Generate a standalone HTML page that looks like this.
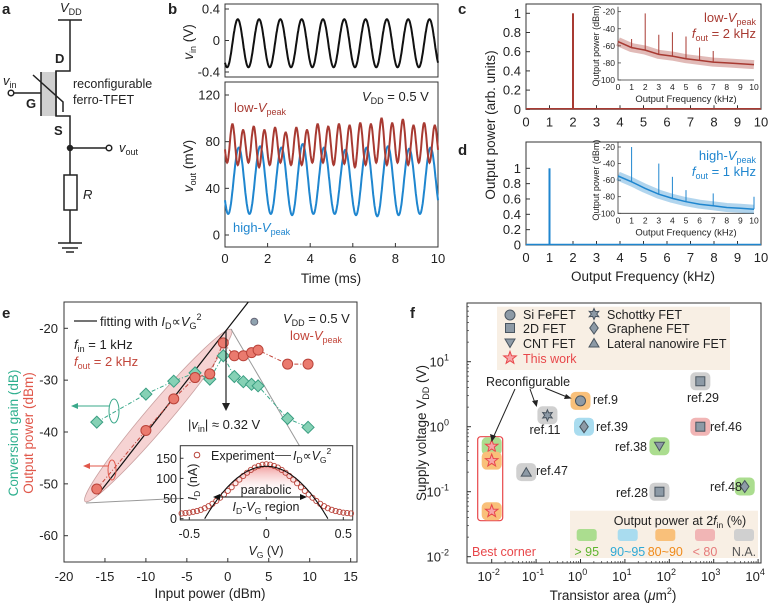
<!DOCTYPE html>
<html><head><meta charset="utf-8"><style>
html,body{margin:0;padding:0;background:#fff;}
svg{display:block;font-family:"Liberation Sans",sans-serif;}
text{fill:#222;}
</style></head><body>
<svg id="fig" width="772" height="610" viewBox="0 0 772 610" xmlns="http://www.w3.org/2000/svg">
<g font-weight="bold" font-size="15">
<text x="2" y="14">a</text>
<text x="168" y="14">b</text>
<text x="458" y="14">c</text>
<text x="458" y="155">d</text>
<text x="2" y="318">e</text>
<text x="410" y="318">f</text>
</g>
<g stroke="#222" stroke-width="1.5" fill="none">
<line x1="58" y1="20" x2="82" y2="20"/>
<polyline points="70,20 70,71 56,71 56,116 70,116 70,243"/>
<rect x="41" y="72" width="14" height="44" fill="#d0d0d0" stroke="none"/>
<line x1="41" y1="72" x2="41" y2="116"/>
<line x1="56" y1="71" x2="56" y2="116"/>
<polyline points="33,75 63,102 63,112"/>
<line x1="14" y1="93" x2="41" y2="93"/>
<circle cx="11" cy="93" r="2.8" fill="#fff"/>
<line x1="70" y1="148" x2="106" y2="148"/>
<circle cx="70" cy="148" r="2.5" fill="#222"/>
<circle cx="109" cy="148" r="2.8" fill="#fff"/>
<rect x="64" y="175" width="13" height="35" fill="#fff"/>
<line x1="58" y1="243" x2="82" y2="243"/>
<line x1="62" y1="248" x2="78" y2="248"/>
<line x1="66" y1="252" x2="74" y2="252"/>
</g>
<g font-size="13">
<text x="60" y="12" font-style="italic">V<tspan font-size="9" font-style="normal" dy="3">DD</tspan></text>
<text x="55" y="63" font-weight="bold">D</text>
<text x="26" y="108" font-weight="bold">G</text>
<text x="54" y="135" font-weight="bold">S</text>
<text x="3" y="85" font-style="italic">v<tspan font-size="9" font-style="normal" dy="3">in</tspan></text>
<text x="119" y="152" font-style="italic">v<tspan font-size="9" font-style="normal" dy="3">out</tspan></text>
<text x="73" y="88" font-size="12.5">reconfigurable</text>
<text x="73" y="104" font-size="12.5">ferro-TFET</text>
<text x="83" y="199" font-style="italic">R</text>
</g>
<g id="charts"></g>
</svg>
<script>
const vinStart = -0.4, vinHalf = 0.5;
const vinExt = [0.27,-0.34,0.27,-0.34,0.27,-0.34,0.27,-0.34,0.27,-0.34,0.27,-0.34,0.27,-0.34,0.27,-0.34,0.27,-0.34,0.27,-0.34,0.27,-0.34];
const lowStart = -0.15, lowHalf = 0.25;
const lowExt = [95,62,95,60,90,62,93,58,90,60,92,62,88,60,92,60,90,62,95,62,93,60,95,61,94,58,96,60,95,62,100,60,96,62,99,60,94,62,96,62,94,62];
const highStart = -0.35, highHalf = 0.5;
const highExt = [75,18,75,18,76,18,75,17,78,18,75,18,73,17,75,16,76,17,74,18,75,18];
const bTimeTicks = [0,2,4,6,8,10];
const vinTicks = [-0.4,0,0.4];
const voutTicks = [0,40,80,120];
const freqTicks = [0,1,2,3,4,5,6,7,8,9,10];
const normTicks = [0,0.2,0.4,0.6,0.8,1];
const cPeakFreq = [2], cPeakVal = [1];
const dPeakFreq = [1], dPeakVal = [1];
const insetTicksY = [-20,-40,-60,-80,-100];
const cBaseF = [0,1,2,3,4,5,6,7,8,9,10];
const cBaseDb = [-55,-62,-65,-70,-72,-75,-77,-79,-80,-81,-82];
const cSpikeF = [1,2,3,4,5,6,7];
const cSpikeDb = [-52,-22,-47,-44,-49,-62,-66];
const dBaseF = [0,1,2,3,4,5,6,7,8,9,10];
const dBaseDb = [-55,-62,-70,-77,-82,-86,-89,-91,-93,-94,-95];
const dSpikeF = [1,3,4,5,7,10];
const dSpikeDb = [-20,-40,-56,-72,-76,-80];
const ePin = [-16,-10,-6.6,-4,-2.2,-0.55,0.8,1.9,2.9,3.7,7.3,9.8];
const ePout = [-51,-39.7,-33.6,-29.5,-28.8,-22.8,-25.3,-25.3,-24.7,-24.2,-26.9,-26.9];
const eGain = [-38.1,-32.7,-30.2,-28.6,-29.8,-25.3,-29.3,-30.3,-30.8,-31.1,-37.4,-39.1];
const eXTicks = [-20,-15,-10,-5,0,5,10,15];
const eYTicks = [-20,-30,-40,-50,-60];
const inVg = [-0.55,-0.525,-0.5,-0.475,-0.45,-0.425,-0.4,-0.375,-0.35,-0.325,-0.3,-0.275,-0.25,-0.225,-0.2,-0.175,-0.15,-0.125,-0.1,-0.075,-0.05,-0.025,0,0.025,0.05,0.075,0.1,0.125,0.15,0.175,0.2,0.225,0.25,0.275,0.3,0.325,0.35,0.375,0.4,0.425,0.45,0.475,0.5,0.525,0.55];
const inId = [13,14,15,17,19,22,26,31,37,44,52,60,69,78,88,97,106,114,121,127,131,134,135,134,131,127,121,114,106,97,88,78,69,60,52,44,37,31,26,22,19,17,15,14,13];
const fitPeak = [130], fitRoot = [0.4];
const inXTicks = [-0.5,0,0.5];
const inYTicks = [0,50,100,150];
const fNames = ['ref.9','ref.11','ref.39','ref.29','ref.46','ref.38','ref.47','ref.28','ref.48','tw1','tw2','tw3'];
const fArea = [1,0.18,1.2,500,500,60,0.06,60,5000,0.01,0.01,0.01];
const fVdd = [2.5,1.5,1,5,1,0.5,0.2,0.1,0.12,0.5,0.3,0.05];
const fShape = ['circle','star6','diamond','square','square','tridown','triup','square','diamond','star5','star5','star5'];
const fClass = ['orange','gray','blue','gray','pink','green','gray','gray','green','green','orange','orange'];
const fXTicks = [-2,-1,0,1,2,3,4];
const fYTicks = [-2,-1,0,1];

const NS='http://www.w3.org/2000/svg';
const root=document.getElementById('charts');
function mk(tag,attrs,parent){const e=document.createElementNS(NS,tag);for(const k in attrs)e.setAttribute(k,attrs[k]);(parent||root).appendChild(e);return e;}
function txt(x,y,s,attrs,parent){const t=mk('text',Object.assign({x:x,y:y},attrs||{}),parent);t.textContent=s;return t;}
function wave(start,half,ext,X,Y){let d='';for(let t=0;t<=10.0001;t+=0.02){let u=(t-start)/half;let i=Math.floor(u);if(i<0)i=0;if(i>ext.length-2)i=ext.length-2;let f=Math.min(1,Math.max(0,u-i));let v=ext[i]+(ext[i+1]-ext[i])*(1-Math.cos(Math.PI*f))/2;d+=(d?'L':'M')+X(t).toFixed(1)+','+Y(v).toFixed(1);}return d;}

const gb=mk('g',{});


const bX=t=>225+t*21.3;
const bY1=v=>40.5-v*78.75;
const bY2=v=>235-v*140/120;
mk('rect',{x:225,y:4,width:213,height:73,fill:'none',stroke:'#333','stroke-width':1},gb);
mk('rect',{x:225,y:82,width:213,height:165,fill:'none',stroke:'#333','stroke-width':1},gb);
vinTicks.forEach(v=>{mk('line',{x1:225,x2:229,y1:bY1(v),y2:bY1(v),stroke:'#333'},gb);const t=txt(220,bY1(v)+4.5,v===0?'0':v.toFixed(1),{'font-size':13,'text-anchor':'end'},gb);});
voutTicks.forEach(v=>{mk('line',{x1:225,x2:229,y1:bY2(v),y2:bY2(v),stroke:'#333'},gb);const t=txt(220,bY2(v)+4.5,String(v),{'font-size':13,'text-anchor':'end'},gb);});
bTimeTicks.forEach(v=>{mk('line',{x1:bX(v),x2:bX(v),y1:247,y2:243,stroke:'#333'},gb);const t=txt(bX(v),263,String(v),{'font-size':13,'text-anchor':'middle'},gb);});
const vinP=mk('path',{d:wave(vinStart,vinHalf,vinExt,bX,bY1),fill:'none',stroke:'#111','stroke-width':2},gb);


const hiP=mk('path',{d:wave(highStart,highHalf,highExt,bX,bY2),fill:'none',stroke:'#1f86cf','stroke-width':2},gb);


const loP=mk('path',{d:wave(lowStart,lowHalf,lowExt,bX,bY2),fill:'none',stroke:'#a83a32','stroke-width':2},gb);


gb.insertAdjacentHTML('beforeend',
'<text x="331" y="283" font-size="13.5" text-anchor="middle">Time (ms)</text>'+
'<text transform="translate(193,42) rotate(-90)" font-size="13.5" text-anchor="middle"><tspan font-style="italic">v</tspan><tspan font-size="9" dy="3">in</tspan><tspan dy="-3"> (V)</tspan></text>'+
'<text transform="translate(193,166) rotate(-90)" font-size="13.5" text-anchor="middle"><tspan font-style="italic">v</tspan><tspan font-size="9" dy="3">out</tspan><tspan dy="-3"> (mV)</tspan></text>'+
'<text x="234" y="112" font-size="13" style="fill:#a83a32">low-<tspan font-style="italic">V</tspan><tspan font-size="9" dy="3">peak</tspan></text>'+
'<text x="233" y="232" font-size="13" style="fill:#1f86cf">high-<tspan font-style="italic">V</tspan><tspan font-size="9" dy="3">peak</tspan></text>'+
'<text x="362" y="101" font-size="13"><tspan font-style="italic">V</tspan><tspan font-size="9" dy="3">DD</tspan><tspan dy="-3"> = 0.5 V</tspan></text>');

function spectrum(name,top,y0,y1,peakF,peakV,col,baseF,baseDb,spF,spDb,iTop,iBot,label1,label2){
  const g=mk('g',{});
  
  
  const X=f=>526+f*23.5;
  const Y=v=>y0-(y0-y1)*v;
  mk('rect',{x:526,y:top,width:235,height:y0-top,fill:'none',stroke:'#333'},g);
  normTicks.forEach(v=>{mk('line',{x1:526,x2:530,y1:Y(v),y2:Y(v),stroke:'#333'},g);const t=txt(521,Y(v)+4.5,v===0||v===1?String(v):v.toFixed(1),{'font-size':13,'text-anchor':'end'},g);});
  freqTicks.forEach(f=>{mk('line',{x1:X(f),x2:X(f),y1:y0,y2:y0-4,stroke:'#333'},g);const t=txt(X(f),y0+17,String(f),{'font-size':13,'text-anchor':'middle'},g);});
  const bl=mk('line',{x1:526,x2:761,y1:y0-0.5,y2:y0-0.5,stroke:col,'stroke-width':1.5},g);
  
  
  peakF.forEach((f,i)=>{const l=mk('line',{x1:X(f),x2:X(f),y1:y0,y2:Y(peakV[i]),stroke:col,'stroke-width':2},g);});
  const IX=f=>618+f*13.6;
  const IY=v=>iTop+(iBot-iTop)*(-20-v)/80;
  mk('polyline',{points:`618,${iTop-5} 618,${iBot} 754,${iBot}`,fill:'none',stroke:'#333','stroke-width':0.8},g);
  insetTicksY.forEach(v=>{mk('line',{x1:618,x2:621,y1:IY(v),y2:IY(v),stroke:'#333','stroke-width':0.7},g);const t=txt(615,IY(v)+3,String(v),{'font-size':8.5,'text-anchor':'end'},g);});
  freqTicks.forEach(f=>{const t=txt(IX(f),iBot+10,String(f),{'font-size':8.5,'text-anchor':'middle'},g);});
  let pts=baseF.map((f,i)=>IX(f).toFixed(1)+','+IY(baseDb[i]).toFixed(1)).join(' ');
  const band=mk('polyline',{points:pts,fill:'none',stroke:col,'stroke-width':9,'stroke-opacity':0.35,'stroke-linejoin':'round'},g);
  
  
  const ln=mk('polyline',{points:pts,fill:'none',stroke:col,'stroke-width':1.5},g);
  
  
  spF.forEach((f,i)=>{let k=Math.min(baseF.length-1,Math.round(f));const l=mk('line',{x1:IX(f),x2:IX(f),y1:IY(baseDb[k]),y2:IY(spDb[i]),stroke:col,'stroke-width':1},g);});
  const tl=txt(686,iBot+22,'Output Frequency (kHz)',{'font-size':9.5,'text-anchor':'middle'},g);
  
  
  const yl=txt(0,0,'Output power (dBm)',{'font-size':9,'text-anchor':'middle',transform:`translate(599,${(iTop+iBot)/2}) rotate(-90)`},g);
  
  
  g.insertAdjacentHTML('beforeend',label1+label2);
}
spectrum('panel-c-spectrum-low',4,109.3,13.3,cPeakFreq,cPeakVal,'#a83a32',cBaseF,cBaseDb,cSpikeF,cSpikeDb,11.7,80,
'<text x="756" y="22" font-size="13" text-anchor="end" style="fill:#a83a32">low-<tspan font-style="italic">V</tspan><tspan font-size="9" dy="3">peak</tspan></text>',
'<text x="756" y="38" font-size="13" text-anchor="end" style="fill:#a83a32"><tspan font-style="italic">f</tspan><tspan font-size="9" dy="3">out</tspan><tspan dy="-3"> = 2 kHz</tspan></text>');
spectrum('panel-d-spectrum-high',142,245,168.3,dPeakFreq,dPeakVal,'#1f86cf',dBaseF,dBaseDb,dSpikeF,dSpikeDb,147,213.3,
'<text x="756" y="160" font-size="13" text-anchor="end" style="fill:#1f86cf">high-<tspan font-style="italic">V</tspan><tspan font-size="9" dy="3">peak</tspan></text>',
'<text x="756" y="176" font-size="13" text-anchor="end" style="fill:#1f86cf"><tspan font-style="italic">f</tspan><tspan font-size="9" dy="3">out</tspan><tspan dy="-3"> = 1 kHz</tspan></text>');
root.insertAdjacentHTML('beforeend',
'<text transform="translate(495,125) rotate(-90)" font-size="13.5" text-anchor="middle">Output power (arb. units)</text>'+
'<text x="643" y="281" font-size="13.5" text-anchor="middle">Output Frequency (kHz)</text>');

const ge=mk('g',{});


const eX=p=>64+(p+20)*8.19;
const eY=v=>328.3-(v+20)*5.185;
mk('rect',{x:64,y:302,width:293,height:260,fill:'none',stroke:'#333'},ge);
eYTicks.forEach(v=>{mk('line',{x1:64,x2:68,y1:eY(v),y2:eY(v),stroke:'#333'},ge);const t=txt(58,eY(v)+4.5,String(v),{'font-size':13,'text-anchor':'end'},ge);});
eXTicks.forEach(v=>{mk('line',{x1:eX(v),x2:eX(v),y1:562,y2:558,stroke:'#333'},ge);const t=txt(eX(v),581,String(v),{'font-size':13,'text-anchor':'middle'},ge);});
const ell=mk('ellipse',{cx:158.3,cy:415.5,rx:113,ry:12,transform:'rotate(-49.6 158.3 415.5)',fill:'#f3c4c4','fill-opacity':0.75,stroke:'#c9a0a0','stroke-width':0.8},ge);


mk('line',{x1:231,y1:329,x2:333,y2:503,stroke:'#999','stroke-width':1},ge);
mk('line',{x1:86,y1:503,x2:207,y2:497,stroke:'#999','stroke-width':1},ge);
const fit=mk('line',{x1:98.3,y1:494.3,x2:248.3,y2:302,stroke:'#111','stroke-width':1.2},ge);


function polyPts(xs,ys){return xs.map((x,i)=>eX(x).toFixed(1)+','+eY(ys[i]).toFixed(1)).join(' ');}
const gl=mk('polyline',{points:polyPts(ePin,eGain),fill:'none',stroke:'#3aa88a','stroke-width':1,'stroke-dasharray':'4 2 1 2'},ge);


const pl=mk('polyline',{points:polyPts(ePin,ePout),fill:'none',stroke:'#c2453a','stroke-width':1,'stroke-dasharray':'4 2 1 2'},ge);


ePin.forEach((p,i)=>{const x=eX(p),y=eY(eGain[i]);const d=mk('polygon',{points:`${x},${y-6} ${x+6},${y} ${x},${y+6} ${x-6},${y}`,fill:'#86d1b5',stroke:'#3a9e82','stroke-width':1},ge);});
ePin.forEach((p,i)=>{const c=mk('circle',{cx:eX(p),cy:eY(ePout[i]),r:5,fill:'#ea7a6e',stroke:'#b9433a','stroke-width':1},ge);});
mk('circle',{cx:254.3,cy:321.7,r:3.5,fill:'#8fa3b0',stroke:'#667'},ge);
ge.insertAdjacentHTML('beforeend',
'<line x1="226" y1="330" x2="226" y2="404" stroke="#222" stroke-width="1.2"/><polygon points="222,403 230,403 226,411" fill="#222"/>'+
'<ellipse cx="114" cy="411" rx="5" ry="12" fill="none" stroke="#3aa88a"/><line x1="109" y1="406" x2="75" y2="406" stroke="#3aa88a"/><polygon points="71,406 78,403 78,409" fill="#3aa88a"/>'+
'<ellipse cx="112" cy="470" rx="4" ry="10" fill="none" stroke="#e0574a"/><line x1="108" y1="466" x2="87" y2="466" stroke="#e0574a"/><polygon points="83,466 90,463 90,469" fill="#e0574a"/>'+
'<line x1="74" y1="321" x2="97" y2="321" stroke="#222" stroke-width="1.2"/>'+
'<text x="100" y="326" font-size="13">fitting with <tspan font-style="italic">I</tspan><tspan font-size="9" dy="3">D</tspan><tspan dy="-3">∝</tspan><tspan font-style="italic">V</tspan><tspan font-size="9" dy="3">G</tspan><tspan font-size="9" dy="-9">2</tspan></text>'+
'<text x="283" y="323" font-size="13"><tspan font-style="italic">V</tspan><tspan font-size="9" dy="3">DD</tspan><tspan dy="-3"> = 0.5 V</tspan></text>'+
'<text x="290" y="340" font-size="13" style="fill:#c2453a">low-<tspan font-style="italic">V</tspan><tspan font-size="9" dy="3">peak</tspan></text>'+
'<text x="74" y="349" font-size="13"><tspan font-style="italic">f</tspan><tspan font-size="9" dy="3">in</tspan><tspan dy="-3"> = 1 kHz</tspan></text>'+
'<text x="74" y="366" font-size="13" style="fill:#c2453a"><tspan font-style="italic">f</tspan><tspan font-size="9" dy="3">out</tspan><tspan dy="-3"> = 2 kHz</tspan></text>'+
'<text x="188" y="429" font-size="13">|<tspan font-style="italic">v</tspan><tspan font-size="9" dy="3">in</tspan><tspan dy="-3">| ≈ 0.32 V</tspan></text>'+
'<text x="210" y="598" font-size="13.5" text-anchor="middle">Input power (dBm)</text>'+
'<text transform="translate(18,433) rotate(-90)" font-size="13.5" text-anchor="middle" style="fill:#2fb08f">Conversion gain (dB)</text>'+
'<text transform="translate(33,433) rotate(-90)" font-size="13.5" text-anchor="middle" style="fill:#e0574a">Output power (dBm)</text>');
const gi=mk('g',{},ge);


const iX=v=>266.3+v*154;
const iY=v=>518.7-v*0.403;
mk('rect',{x:180.3,y:445.7,width:172.4,height:74.3,fill:'#fff',stroke:'#333'},gi);
const defs=mk('defs',{},gi);
defs.innerHTML='<linearGradient id="pg" x1="0" y1="0" x2="0" y2="1"><stop offset="0" stop-color="#ef8f8f" stop-opacity="0.85"/><stop offset="1" stop-color="#fff" stop-opacity="0"/></linearGradient>';
let fd='';for(let v=-0.3;v<=0.3001;v+=0.01){fd+=(fd?'L':'M')+iX(v).toFixed(1)+','+iY(fitPeak[0]*(1-(v/fitRoot[0])**2)).toFixed(1);}
mk('path',{d:fd+'Z',fill:'url(#pg)',stroke:'none'},gi);
inYTicks.forEach(v=>{mk('line',{x1:180.3,x2:183.5,y1:iY(v),y2:iY(v),stroke:'#333'},gi);const t=txt(177,iY(v)+4.5,String(v),{'font-size':12.5,'text-anchor':'end'},gi);});
inXTicks.forEach(v=>{mk('line',{x1:iX(v),x2:iX(v),y1:520,y2:517,stroke:'#333'},gi);const t=txt(iX(v),538,v===0?'0':String(v),{'font-size':12.5,'text-anchor':'middle'},gi);});
inVg.forEach((v,i)=>{const c=mk('circle',{cx:iX(v),cy:iY(inId[i]),r:2.6,fill:'none',stroke:'#b9433a','stroke-width':0.9},gi);});
let pd='';for(let v=-fitRoot[0];v<=fitRoot[0]+0.0001;v+=0.01){pd+=(pd?'L':'M')+iX(v).toFixed(1)+','+iY(Math.max(0,fitPeak[0]*(1-(v/fitRoot[0])**2))).toFixed(1);}
const pf=mk('path',{d:pd,fill:'none',stroke:'#111','stroke-width':1.1},gi);


gi.insertAdjacentHTML('beforeend',
'<circle cx="197" cy="455" r="2.8" fill="none" stroke="#b9433a"/><text x="211" y="460" font-size="12.5">Experiment</text>'+
'<line x1="275" y1="455.5" x2="291" y2="455.5" stroke="#555"/><text x="293" y="460" font-size="12.5"><tspan font-style="italic">I</tspan><tspan font-size="8.5" dy="3">D</tspan><tspan dy="-3">∝</tspan><tspan font-style="italic">V</tspan><tspan font-size="8.5" dy="3">G</tspan><tspan font-size="8.5" dy="-9">2</tspan></text>'+
'<text x="266" y="494" font-size="12.5" text-anchor="middle">parabolic</text>'+
'<line x1="217" y1="497" x2="303" y2="497" stroke="#111"/><polygon points="213,497 220,494 220,500" fill="#111"/><polygon points="307,497 300,494 300,500" fill="#111"/>'+
'<text x="266" y="511" font-size="12.5" text-anchor="middle"><tspan font-style="italic">I</tspan><tspan font-size="8.5" dy="3">D</tspan><tspan dy="-3">-</tspan><tspan font-style="italic">V</tspan><tspan font-size="8.5" dy="3">G</tspan><tspan dy="-3"> region</tspan></text>'+
'<text transform="translate(197,482) rotate(-90)" font-size="12.5" text-anchor="middle"><tspan font-style="italic">I</tspan><tspan font-size="8.5" dy="3">D</tspan><tspan dy="-3"> (nA)</tspan></text>'+
'<text x="266" y="555" font-size="12.5" text-anchor="middle"><tspan font-style="italic">V</tspan><tspan font-size="8.5" dy="3">G</tspan><tspan dy="-3"> (V)</tspan></text>');

const gf=mk('g',{});


const fX=a=>491.7+(Math.log10(a)+2)*44.4;
const fY=v=>426.7-Math.log10(v)*65;
const swCol={green:'#abdd8f',blue:'#a9dcef',orange:'#f9c07a',pink:'#f1b5b5',gray:'#d0d0d0'};
const txCol={green:'#5fb52f',blue:'#2ea9d6',orange:'#f08a1a',pink:'#e57a7a',gray:'#555'};
mk('rect',{x:467,y:303,width:294,height:260,fill:'none',stroke:'#333'},gf);
mk('rect',{x:497,y:306.7,width:233,height:63.3,fill:'#f8efe4'},gf);
mk('rect',{x:570,y:510.7,width:188,height:47.3,fill:'#f8efe4'},gf);
fXTicks.forEach(e=>{mk('line',{x1:fX(10**e),x2:fX(10**e),y1:563,y2:559,stroke:'#333'},gf);for(let m=2;m<10&&e<4;m++){const xx=fX(m*10**e);mk('line',{x1:xx,x2:xx,y1:563,y2:561,stroke:'#333','stroke-width':0.7},gf);}
 const t=txt(fX(10**e)-3,581,'10',{'font-size':13,'text-anchor':'middle'},gf);const s=mk('tspan',{'font-size':9,dy:-6},t);s.textContent=String(e);});
fYTicks.forEach(e=>{mk('line',{x1:467,x2:471,y1:fY(10**e),y2:fY(10**e),stroke:'#333'},gf);for(let m=2;m<10;m++){const yy=fY(m*10**e);if(yy>303)mk('line',{x1:467,x2:469,y1:yy,y2:yy,stroke:'#333','stroke-width':0.7},gf);}
 const t=txt(449,fY(10**e)+5,'10',{'font-size':13,'text-anchor':'end'},gf);const s=mk('tspan',{'font-size':9,dy:-6},t);s.textContent=String(e);});
function shape(kind,x,y,r,fill,stroke,parent){
 let p;
 if(kind==='circle')p=mk('circle',{cx:x,cy:y,r:r},parent);
 else if(kind==='square')p=mk('rect',{x:x-r*0.9,y:y-r*0.9,width:r*1.8,height:r*1.8},parent);
 else if(kind==='diamond')p=mk('polygon',{points:`${x},${y-r*1.2} ${x+r*0.85},${y} ${x},${y+r*1.2} ${x-r*0.85},${y}`},parent);
 else if(kind==='tridown')p=mk('polygon',{points:`${x-r},${y-r*0.8} ${x+r},${y-r*0.8} ${x},${y+r*0.9}`},parent);
 else if(kind==='triup')p=mk('polygon',{points:`${x-r},${y+r*0.8} ${x+r},${y+r*0.8} ${x},${y-r*0.9}`},parent);
 else {const n=kind==='star5'?5:6;const ri=kind==='star5'?0.45:0.55;let pts=[];for(let i=0;i<2*n;i++){const a=-Math.PI/2+i*Math.PI/n;const rr=i%2?r*ri:r*1.1;pts.push((x+rr*Math.cos(a)).toFixed(1)+','+(y+rr*Math.sin(a)).toFixed(1));}p=mk('polygon',{points:pts.join(' ')},parent);}
 p.setAttribute('fill',fill);p.setAttribute('stroke',stroke);p.setAttribute('stroke-width',1);return p;}
gf.insertAdjacentHTML('beforeend','<rect x="477.7" y="436.7" width="25" height="84" rx="3" fill="none" stroke="#e8474a" stroke-width="1.2"/>');
fArea.forEach((a,i)=>{const x=fX(a),y=fY(fVdd[i]);const sw=mk('rect',{x:x-10,y:y-9,width:20,height:18,rx:5,fill:swCol[fClass[i]]},gf);
 const star=fShape[i]==='star5';const m=shape(fShape[i],x,y,star?6:5,star?'#f7a5a8':'#8d9aa6',star?'#e8474a':'#4a5560',gf);});
shape('circle',510,315,5,'#8d9aa6','#4a5560',gf);shape('square',510,328,5,'#8d9aa6','#4a5560',gf);shape('tridown',510,343,5,'#8d9aa6','#4a5560',gf);shape('star5',510,358,6,'#f7a5a8','#e8474a',gf);
shape('star6',594,314,5,'#8d9aa6','#4a5560',gf);shape('diamond',594,328,5,'#8d9aa6','#4a5560',gf);shape('triup',594,343,5,'#8d9aa6','#4a5560',gf);
const lc=['green','blue','orange','pink','gray'],lx=[586.7,627.7,665.3,705,744],lt=['> 95','90~95','80~90','< 80','N.A.'];
lc.forEach((c,i)=>{mk('rect',{x:lx[i]-10,y:529,width:20,height:12,rx:3,fill:swCol[c]},gf);const t=txt(lx[i],556,lt[i],{'font-size':12.5,'text-anchor':'middle',style:'fill:'+txCol[c]},gf);});
gf.insertAdjacentHTML('beforeend',
'<g font-size="12.5"><text x="523" y="319">Si FeFET</text><text x="523" y="333">2D FET</text><text x="523" y="348">CNT FET</text><text x="523" y="363" style="fill:#e8474a">This work</text><text x="607" y="319">Schottky FET</text><text x="607" y="333">Graphene FET</text><text x="607" y="348">Lateral nanowire FET</text></g>'+
'<text x="680" y="525" font-size="12.5" text-anchor="middle">Output power at 2<tspan font-style="italic">f</tspan><tspan font-size="8.5" dy="3">in</tspan><tspan dy="-3"> (%)</tspan></text>'+
'<g font-size="12.5"><text x="593" y="404">ref.9</text><text x="545" y="434" text-anchor="middle">ref.11</text><text x="596" y="431">ref.39</text><text x="703" y="402" text-anchor="middle">ref.29</text><text x="710" y="431">ref.46</text><text x="647" y="451" text-anchor="end">ref.38</text><text x="536" y="475">ref.47</text><text x="648" y="497" text-anchor="end">ref.28</text><text x="742" y="491" text-anchor="end">ref.48</text></g>'+
'<text x="528" y="386" font-size="12.5" text-anchor="middle">Reconfigurable</text>'+
'<g stroke="#222" stroke-width="1"><line x1="515" y1="389" x2="493" y2="438"/><line x1="530" y1="389" x2="535" y2="403"/><line x1="545" y1="388" x2="567" y2="397"/></g>'+
'<polygon points="491.7,442 490,434 496,436" fill="#222"/><polygon points="536.7,407 532,401 538,400" fill="#222"/><polygon points="571.7,398.5 564,399 566,394" fill="#222"/>'+
'<text x="472" y="556" font-size="12.5" style="fill:#e8474a">Best corner</text>'+
'<text x="613" y="600" font-size="13.5" text-anchor="middle">Transistor area (<tspan font-style="italic">μ</tspan>m<tspan font-size="9" dy="-6">2</tspan><tspan dy="6">)</tspan></text>'+
'<text transform="translate(426,433) rotate(-90)" font-size="13.5" text-anchor="middle">Supply voltage V<tspan font-size="9" dy="3">DD</tspan><tspan dy="-3"> (V)</tspan></text>');
</script>
</body></html>
